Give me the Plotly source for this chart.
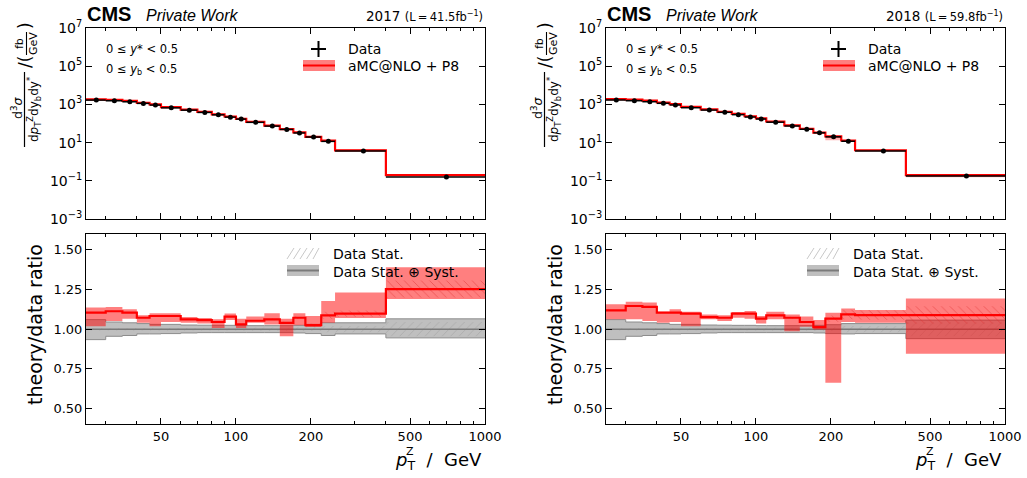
import math
import plotly.graph_objects as go

W, H = 1027, 478

# Binning in pT^Z (GeV)
bin_edges = [25, 30, 35, 40, 45, 50, 60, 70, 80, 90, 100, 110, 130, 150, 170, 190, 220, 250, 400, 1000]

# ---- 2017 ----
data_2017 = [1680, 1550, 1370, 1130, 920, 660, 500, 380, 285, 215, 170, 115, 73, 49, 32, 19.6, 11.6, 3.6, 0.16]
ratio_2017 = [1.104, 1.113, 1.104, 1.072, 1.083, 1.083, 1.062, 1.057, 1.045, 1.079, 1.030, 1.053, 1.062,
              1.040, 1.072, 1.025, 1.087, 1.098, 1.253]
theo_lo_2017 = [1.019, 1.051, 1.066, 1.040, 1.019, 1.045, 1.040, 1.036, 1.008, 1.057, 1.008, 1.040, 1.030,
                0.955, 1.025, 1.013, 1.040, 1.070, 1.190]
theo_hi_2017 = [1.136, 1.140, 1.125, 1.087, 1.100, 1.100, 1.076, 1.070, 1.062, 1.098, 1.066, 1.079, 1.100,
                1.065, 1.100, 1.083, 1.178, 1.231, 1.390]
mcstat_2017 = [0.004, 0.004, 0.004, 0.004, 0.004, 0.004, 0.004, 0.004, 0.004, 0.005, 0.005, 0.005, 0.006,
               0.007, 0.008, 0.010, 0.022, 0.020, 0.054]
syst_up_2017 = [0.060, 0.045, 0.040, 0.035, 0.030, 0.030, 0.026, 0.025, 0.024, 0.024, 0.022, 0.022, 0.022,
                0.022, 0.024, 0.030, 0.040, 0.040, 0.065]
syst_dn_2017 = [0.066, 0.045, 0.040, 0.030, 0.030, 0.028, 0.024, 0.022, 0.022, 0.022, 0.022, 0.022, 0.022,
                0.022, 0.024, 0.028, 0.040, 0.030, 0.055]
stat_2017 = [0.008, 0.008, 0.008, 0.008, 0.008, 0.008, 0.008, 0.008, 0.008, 0.008, 0.010, 0.010, 0.010,
             0.010, 0.012, 0.012, 0.020, 0.020, 0.045]

# ---- 2018 ----
data_2018 = [1700, 1560, 1380, 1140, 930, 670, 505, 385, 290, 218, 172, 117, 74, 50, 32.5, 20, 11.8, 3.65, 0.18]
ratio_2018 = [1.119, 1.146, 1.140, 1.104, 1.104, 1.098, 1.076, 1.072, 1.098, 1.098, 1.066, 1.087, 1.072,
              1.045, 1.013, 1.066, 1.093, 1.089, 1.089]
theo_lo_2018 = [1.062, 1.062, 1.051, 1.040, 1.045, 1.019, 1.062, 1.051, 1.072, 1.066, 1.036, 1.062, 0.987,
                1.015, 0.998, 0.662, 1.045, 1.040, 0.845]
theo_hi_2018 = [1.157, 1.172, 1.168, 1.110, 1.125, 1.110, 1.093, 1.087, 1.108, 1.115, 1.083, 1.110, 1.093,
                1.079, 1.057, 1.104, 1.130, 1.121, 1.193]
mcstat_2018 = [0.004, 0.004, 0.004, 0.004, 0.004, 0.004, 0.004, 0.004, 0.004, 0.005, 0.005, 0.005, 0.006,
               0.007, 0.008, 0.020, 0.030, 0.030, 0.055]
syst_up_2018 = [0.060, 0.045, 0.040, 0.035, 0.030, 0.030, 0.026, 0.025, 0.024, 0.024, 0.022, 0.022, 0.022,
                0.022, 0.024, 0.028, 0.035, 0.035, 0.057]
syst_dn_2018 = [0.066, 0.045, 0.040, 0.030, 0.030, 0.028, 0.024, 0.022, 0.022, 0.022, 0.022, 0.022, 0.022,
                0.022, 0.024, 0.028, 0.030, 0.028, 0.060]
stat_2018 = [0.008, 0.008, 0.008, 0.008, 0.008, 0.008, 0.008, 0.008, 0.008, 0.008, 0.010, 0.010, 0.010,
             0.010, 0.012, 0.012, 0.020, 0.020, 0.045]

# Axis ticks
x_tick_vals = [50, 100, 200, 500, 1000]
x_tick_text = ["50", "100", "200", "500", "1000"]
x_minor_vals = [30, 40, 60, 70, 80, 90, 300, 400, 600, 700, 800, 900]
y_top_vals = [1e-3, 1e-1, 1e1, 1e3, 1e5, 1e7]
y_top_text = ["10<sup>\u22123</sup>", "10<sup>\u22121</sup>", "10<sup>1</sup>", "10<sup>3</sup>",
              "10<sup>5</sup>", "10<sup>7</sup>"]
y_ratio_vals = [0.5, 0.75, 1.0, 1.25, 1.5]
y_ratio_text = ["0.50", "0.75", "1.00", "1.25", "1.50"]

FONT = "DejaVu Sans"
RED = "#ff0000"
RED_BAND = "rgba(255,0,0,0.5)"
GRAY_BAND = "rgba(128,128,128,0.5)"


def px(x):
    return x / W


def py(y):
    return 1 - y / H


def step(vals):
    """Step-line coordinates (hv) for per-bin values."""
    return list(bin_edges), list(vals) + [vals[-1]]


fig = go.Figure()


def add_band(lo, hi, xa, ya, fillcolor, line=None, pattern=None):
    xs, ylo = step(lo)
    _, yhi = step(hi)
    ln = line if line else dict(width=0)
    fig.add_trace(go.Scatter(x=xs, y=ylo, mode="lines", line=dict(shape="hv", **ln),
                             xaxis=xa, yaxis=ya, showlegend=False, hoverinfo="skip"))
    kw = {}
    if pattern:
        kw["fillpattern"] = pattern
    fig.add_trace(go.Scatter(x=xs, y=yhi, mode="lines", line=dict(shape="hv", **ln),
                             fill="tonexty", fillcolor=fillcolor, xaxis=xa, yaxis=ya,
                             showlegend=False, hoverinfo="skip", **kw))


def add_panel(data, ratio, tlo, thi, mcstat, sup, sdn, stat, xt, yt, xb, yb):
    # upper panel: cross section
    theory = [d * r for d, r in zip(data, ratio)]
    add_band([d * l for d, l in zip(data, tlo)], [d * h for d, h in zip(data, thi)],
             xt, yt, "rgba(255,0,0,0.3)")
    xs, ys = step(theory)
    fig.add_trace(go.Scatter(x=xs, y=ys, mode="lines", line=dict(shape="hv", color=RED, width=2.2),
                             xaxis=xt, yaxis=yt, showlegend=False, hoverinfo="skip"))
    centers = [(a + b) / 2 for a, b in zip(bin_edges[:-1], bin_edges[1:])]
    fig.add_trace(go.Scatter(
        x=centers, y=data, mode="markers",
        marker=dict(color="black", size=5),
        error_x=dict(type="data", symmetric=False,
                     array=[b - c for b, c in zip(bin_edges[1:], centers)],
                     arrayminus=[c - a for a, c in zip(bin_edges[:-1], centers)],
                     color="black", thickness=1.5, width=0),
        error_y=dict(type="data", array=[d * s for d, s in zip(data, stat)],
                     color="black", thickness=1.5, width=0),
        xaxis=xt, yaxis=yt, showlegend=False, hoverinfo="skip"))

    # lower panel: theory / data ratio
    unity = [d / d for d in data]
    add_band([1 - s for s in sdn], [1 + s for s in sup], xb, yb, GRAY_BAND,
             line=dict(color="#8c8c8c", width=1))
    add_band([1 - s for s in stat], [1 + s for s in stat], xb, yb, "rgba(0,0,0,0)",
             pattern=dict(shape="/", fgcolor="#9a9a9a", bgcolor="rgba(0,0,0,0)", size=6, solidity=0.15))
    xs, ys = step(unity)
    fig.add_trace(go.Scatter(x=xs, y=ys, mode="lines", line=dict(shape="hv", color="#7a7a7a", width=1.5),
                             xaxis=xb, yaxis=yb, showlegend=False, hoverinfo="skip"))
    add_band(tlo, thi, xb, yb, RED_BAND)
    add_band([r - m for r, m in zip(ratio, mcstat)], [r + m for r, m in zip(ratio, mcstat)], xb, yb,
             "rgba(0,0,0,0)",
             pattern=dict(shape="\\", fgcolor="#e03030", bgcolor="rgba(0,0,0,0)", size=6, solidity=0.15))
    xs, ys = step(ratio)
    fig.add_trace(go.Scatter(x=xs, y=ys, mode="lines", line=dict(shape="hv", color=RED, width=2.2),
                             xaxis=xb, yaxis=yb, showlegend=False, hoverinfo="skip"))


add_panel(data_2017, ratio_2017, theo_lo_2017, theo_hi_2017, mcstat_2017, syst_up_2017, syst_dn_2017,
          stat_2017, "x", "y", "x2", "y2")
add_panel(data_2018, ratio_2018, theo_lo_2018, theo_hi_2018, mcstat_2018, syst_up_2018, syst_dn_2018,
          stat_2018, "x3", "y3", "x4", "y4")

# ---- axes ----
col_dom = [[px(86), px(485)], [px(606), px(1005)]]
top_dom = [py(219), py(28)]
bot_dom = [py(424.3), py(234)]

common = dict(showline=True, linecolor="black", linewidth=1, mirror="allticks", ticks="inside",
              tickcolor="black", tickwidth=1, ticklen=6, showgrid=False, zeroline=False,
              automargin=False, tickfont=dict(family=FONT, size=13, color="black"))
xcommon = dict(type="log", range=[math.log10(bin_edges[0]), math.log10(bin_edges[-1])],
               tickmode="array", tickvals=x_tick_vals, ticktext=x_tick_text,
               minor=dict(tickmode="array", tickvals=x_minor_vals, ticks="inside", ticklen=3,
                          tickcolor="black", tickwidth=1, showgrid=False), **common)

for i, (xt, yt, xb, yb) in enumerate([("xaxis", "yaxis", "xaxis2", "yaxis2"),
                                      ("xaxis3", "yaxis3", "xaxis4", "yaxis4")]):
    ta = "y" if i == 0 else "y3"
    ba = "y2" if i == 0 else "y4"
    fig.update_layout({
        xt: dict(domain=col_dom[i], anchor=ta, showticklabels=False, **xcommon),
        xb: dict(domain=col_dom[i], anchor=ba, showticklabels=True, **xcommon),
        yt: dict(domain=top_dom, anchor=("x" if i == 0 else "x3"), type="log", range=[-3, 7],
                 tickmode="array", tickvals=y_top_vals, ticktext=y_top_text,
                 **{**common, "tickfont": dict(family=FONT, size=14, color="black")}),
        yb: dict(domain=bot_dom, anchor=("x2" if i == 0 else "x4"), range=[0.4, 1.6],
                 tickmode="array", tickvals=y_ratio_vals, ticktext=y_ratio_text, **common),
    })

# ---- text, labels and legends ----
ann = []
shapes = []


def text(x, y, s, size, xanchor="left", yanchor="middle", angle=0, family=FONT, color="black"):
    ann.append(dict(x=px(x), y=py(y), xref="paper", yref="paper", text=s, showarrow=False,
                    xanchor=xanchor, yanchor=yanchor, textangle=angle,
                    font=dict(family=family, size=size, color=color)))


def line(x0, y0, x1, y1, color, width):
    shapes.append(dict(type="line", xref="paper", yref="paper", x0=px(x0), y0=py(y0),
                       x1=px(x1), y1=py(y1), line=dict(color=color, width=width)))


def rect(x0, y0, x1, y1, fill, lw=0, lc="rgba(0,0,0,0)"):
    shapes.append(dict(type="rect", xref="paper", yref="paper", x0=px(x0), y0=py(y0),
                       x1=px(x1), y1=py(y1), fillcolor=fill, line=dict(width=lw, color=lc)))


lumi = ["2017 <span style='font-size:11.5px'>(L\u2009=\u200941.5fb<sup>\u22121</sup>)</span>",
        "2018 <span style='font-size:11.5px'>(L\u2009=\u200959.8fb<sup>\u22121</sup>)</span>"]

for i, off in enumerate([0, 520]):
    # header
    text(85 + off, 13.5, "<b>CMS</b>", 20, family="Liberation Sans")
    text(144 + off, 16, "<i>Private Work</i>", 16, family="Liberation Sans")
    text(485 + off, 16, lumi[i], 13.5, xanchor="right")
    # rapidity bin labels
    text(104 + off, 49, "0 \u2264 <i>y</i>* &lt; 0.5", 11.5)
    text(104 + off, 69, "0 \u2264 <i>y</i><sub>b</sub> &lt; 0.5", 11.5)
    # upper legend
    line(311 + off, 49, 326 + off, 49, "black", 2)
    line(318.5 + off, 41, 318.5 + off, 57, "black", 2)
    text(346 + off, 48.5, "Data", 14)
    rect(303 + off, 60, 335 + off, 71, RED_BAND)
    line(303 + off, 65.5, 335 + off, 65.5, RED, 2)
    text(346 + off, 66, "aMC@NLO + P8", 14)
    # lower legend
    for k in range(5):
        x0 = 287 + off + 6.5 * k
        line(x0, 259, min(x0 + 7, 319 + off), 248, "#c8c8c8", 1)
    text(331 + off, 254, "Data Stat.", 14)
    rect(287 + off, 265, 319 + off, 276, GRAY_BAND)
    line(287 + off, 270.5, 319 + off, 270.5, "#7a7a7a", 2)
    text(331 + off, 271.5, "Data Stat. \u2295 Syst.", 14)
    # upper y-axis title (d^3 sigma / dpT dyb dy*) / (fb / GeV)
    text(17 + off, 108, "d<sup>3</sup><i>\u03c3</i>", 12.5, xanchor="center", angle=-90)
    line(24.5 + off, 72, 24.5 + off, 147, "black", 1.2)
    text(34 + off, 110, "d<i>p</i><sub>T</sub><sup>Z</sup>dy<sub>b</sub>dy<sup>*</sup>", 12,
         xanchor="center", angle=-90)
    text(25 + off, 62, "/(", 17, xanchor="center", angle=-90)
    text(19 + off, 44, "fb", 11, xanchor="center", angle=-90)
    line(26.5 + off, 32, 26.5 + off, 55, "black", 1.1)
    text(33 + off, 44, "GeV", 11, xanchor="center", angle=-90)
    text(25 + off, 26, ")", 17, xanchor="center", angle=-90)
    # lower y-axis title and x-axis title (p_T with Z stacked above the T)
    text(35 + off, 325, "theory/data ratio", 19, xanchor="center", angle=-90)
    text(484 + off, 461, "<i>p</i><sub>T</sub>  /  GeV", 18, xanchor="right")
    text(404 + off, 451, "Z", 11, xanchor="left")

fig.update_layout(
    width=W, height=H, margin=dict(l=0, r=0, t=0, b=0, autoexpand=False),
    paper_bgcolor="white", plot_bgcolor="white",
    font=dict(family=FONT, color="black"),
    annotations=ann, shapes=shapes, showlegend=False,
)

fig.write_html("out.html")
